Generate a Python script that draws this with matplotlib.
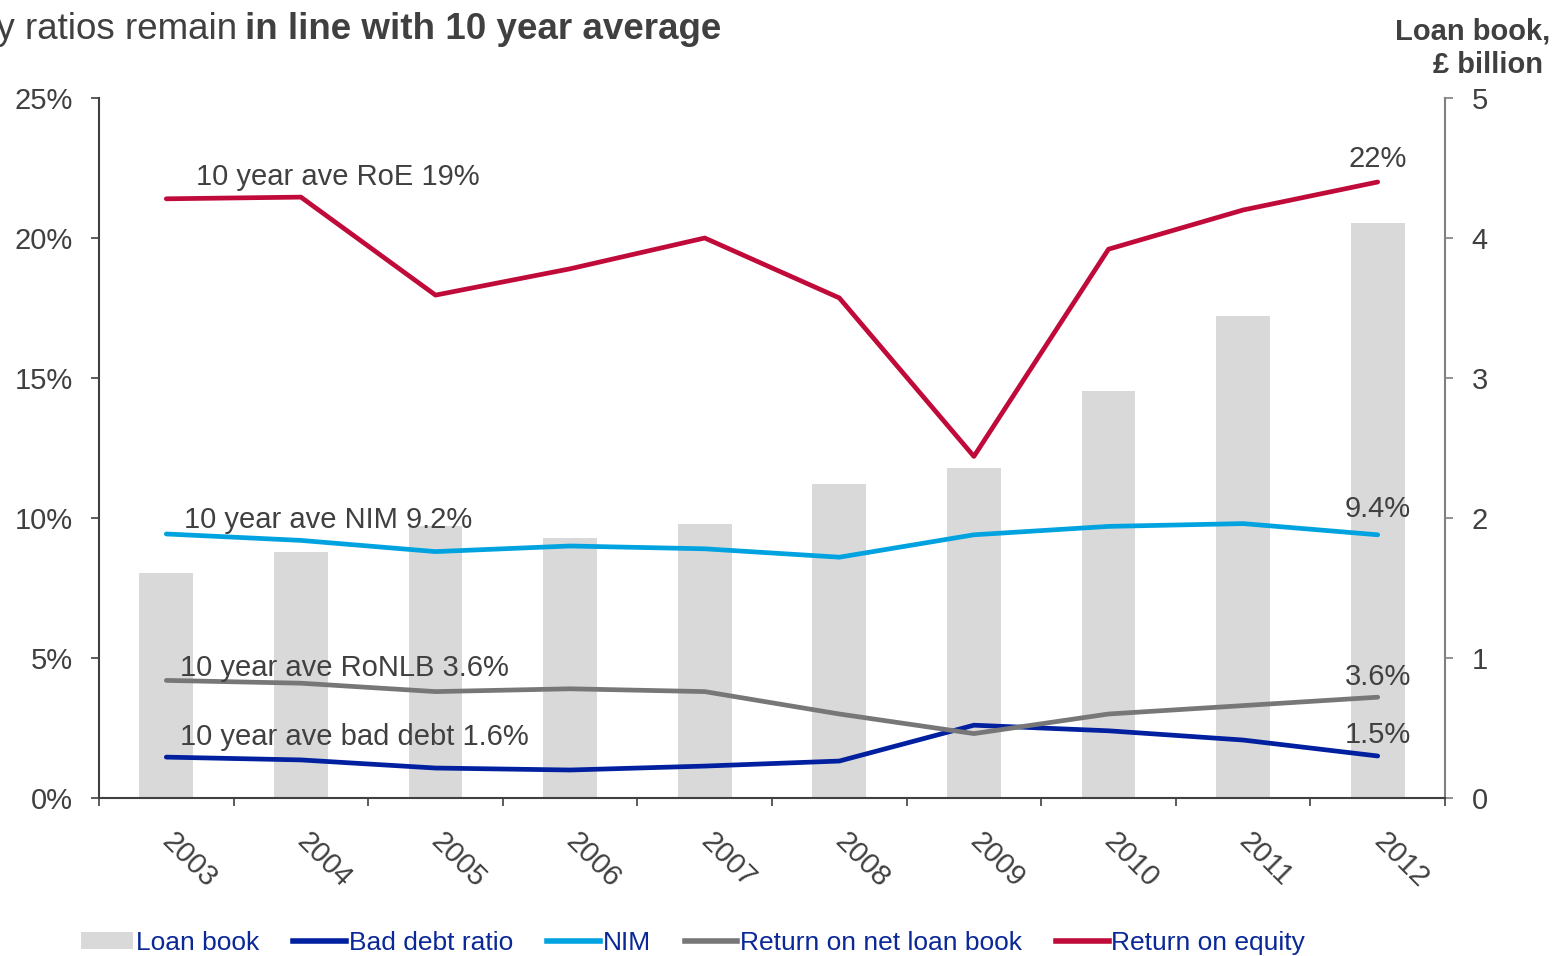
import numpy as np
import matplotlib
matplotlib.use("Agg")
import matplotlib.pyplot as plt
from matplotlib.patches import Patch
from matplotlib.lines import Line2D

plt.rcParams['font.family'] = ['Liberation Sans', 'DejaVu Sans']

# data
years = ['2003', '2004', '2005', '2006', '2007', '2008', '2009', '2010', '2011', '2012']
loan_book = [1.61, 1.76, 1.94, 1.86, 1.96, 2.24, 2.36, 2.91, 3.44, 4.11]
roe = [21.4, 21.46, 17.96, 18.9, 20.0, 17.86, 12.2, 19.6, 21.0, 22.0]
nim = [9.43, 9.2, 8.8, 9.0, 8.9, 8.6, 9.4, 9.7, 9.8, 9.4]
ronlb = [4.2, 4.1, 3.8, 3.9, 3.8, 3.0, 2.3, 3.0, 3.3, 3.6]
bad_debt = [1.46, 1.36, 1.07, 1.0, 1.14, 1.32, 2.6, 2.4, 2.07, 1.5]

avg_labels = ['10 year ave RoE 19%', '10 year ave NIM 9.2%',
              '10 year ave RoNLB 3.6%', '10 year ave bad debt 1.6%']
end_labels = ['22%', '9.4%', '3.6%', '1.5%']

c_bar = '#D9D9D9'
c_bad = '#00209F'
c_nim = '#00A3E0'
c_ron = '#777777'
c_roe = '#C00A3A'
c_txt = '#404040'
c_leg = '#0A2896'

fig = plt.figure(figsize=(15.54, 9.56), dpi=100)
ax = fig.add_axes([99/1554, 1-798/956, (1445-99)/1554, 700/956])
ax2 = ax.twinx()
ax.set_zorder(ax2.get_zorder() + 1)
ax.patch.set_visible(False)

x = np.arange(len(years))
ax2.bar(x, loan_book, width=0.4, color=c_bar, zorder=1)
ax2.set_ylim(0, 5)
ax2.set_yticks([0, 1, 2, 3, 4, 5])

lw = 3.4
for vals, col in [(bad_debt, c_bad), (nim, c_nim), (ronlb, c_ron), (roe, c_roe)]:
    ax.plot(x, vals, color=col, lw=lw, solid_capstyle='round', solid_joinstyle='round')

ax.set_xlim(-0.5, len(years) - 0.5)
ax.set_ylim(0, 25)
ax.set_yticks([0, 5, 10, 15, 20, 25])
ax.set_yticklabels(['0%', '5%', '10%', '15%', '20%', '25%'])

# x ticks at boundaries, labels at centres
ax.set_xticks(x)
ax.set_xticklabels(years, rotation=-45, ha='left', va='center', rotation_mode='anchor')
ax.set_xticks(np.arange(-0.5, len(years)), minor=True)
ax.tick_params(axis='x', which='major', length=0, pad=28, labelsize=21, labelcolor=c_txt)
ax.tick_params(axis='x', which='minor', length=6, width=1.2, color=c_txt, direction='out')
ax.tick_params(axis='y', length=6, width=1.2, color=c_txt, labelsize=21, labelcolor=c_txt, pad=13)
ax2.tick_params(axis='y', length=6, width=1.2, color='#808080', labelsize=21, labelcolor=c_txt, pad=13)

for s in ['top', 'right']:
    ax.spines[s].set_visible(False)
for s in ['top', 'left', 'bottom']:
    ax2.spines[s].set_visible(False)
ax.spines['left'].set_color(c_txt)
ax.spines['left'].set_linewidth(1.5)
ax.spines['bottom'].set_color(c_txt)
ax.spines['bottom'].set_linewidth(1.5)
ax2.spines['right'].set_color('#808080')
ax2.spines['right'].set_linewidth(1.5)

# average annotations
avg_pos = [(0.22, 21.9), (0.13, 9.65), (0.10, 4.35), (0.10, 1.88)]
for (tx, ty), lab in zip(avg_pos, avg_labels):
    ax.text(tx, ty, lab, fontsize=21, color=c_txt, va='baseline', ha='left', zorder=5)
end_y = [22.55, 10.05, 4.05, 1.95]
for ty, lab in zip(end_y, end_labels):
    ax.text(9, ty, lab, fontsize=21, color=c_txt, va='baseline', ha='center', zorder=5)

# title (cut off on the left as in the reference)
fig.text(237/1554, 1-39/956, 'Profitability ratios remain', fontsize=26.5, color=c_txt,
         ha='right', va='baseline')
fig.text(245/1554, 1-39/956, 'in line with 10 year average', fontsize=26.5, color=c_txt,
         ha='left', va='baseline', fontweight='bold')
fig.text(1550/1554, 1-39/956, 'Loan book,', fontsize=21, color=c_txt, ha='right',
         va='baseline', fontweight='bold')
fig.text(1543/1554, 1-73/956, '£ billion', fontsize=21, color=c_txt, ha='right',
         va='baseline', fontweight='bold')

handles = [Patch(facecolor=c_bar, edgecolor='none'),
           Line2D([], [], color=c_bad, lw=4),
           Line2D([], [], color=c_nim, lw=4),
           Line2D([], [], color=c_ron, lw=4),
           Line2D([], [], color=c_roe, lw=4)]
labels = ['Loan book', 'Bad debt ratio', 'NIM', 'Return on net loan book', 'Return on equity']
leg = fig.legend(handles, labels, loc='center left', bbox_to_anchor=(70/1554, 1-943/956),
                 ncol=5, frameon=False, fontsize=19, handlelength=2.0, handleheight=0.6,
                 handletextpad=0.1, columnspacing=1.29, borderaxespad=0)
for t in leg.get_texts():
    t.set_color(c_leg)

fig.savefig('out.png', dpi=100)
